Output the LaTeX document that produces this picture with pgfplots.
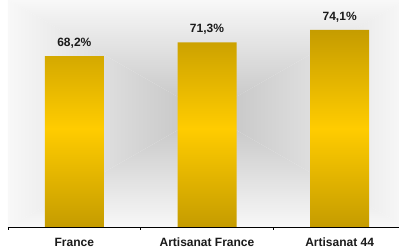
\documentclass[border=0pt]{standalone}
\usepackage{fontspec}
\setmainfont{Liberation Sans}
\usepackage{pgfplots}
\pgfplotsset{compat=1.18}
\definecolor{bdark}{HTML}{C59C00}
\definecolor{bmid}{HTML}{FFCC00}
\definecolor{bgin}{HTML}{C2C2C2}
\definecolor{bgout}{HTML}{F8F8F8}
\definecolor{txt}{HTML}{1A1A1A}
\begin{document}
\begin{tikzpicture}
\fill[white] (-8pt,-21pt) rectangle (391pt,227pt);
\shade[top color=bgout, bottom color=bgin] (0pt,227pt) -- (398pt,227pt) -- (199pt,113.5pt) -- cycle;
\shade[bottom color=bgout, top color=bgin] (0pt,0pt) -- (398pt,0pt) -- (199pt,113.5pt) -- cycle;
\shade[left color=bgout, right color=bgin] (0pt,0pt) -- (0pt,227pt) -- (199pt,113.5pt) -- cycle;
\shade[right color=bgout, left color=bgin] (398pt,0pt) -- (398pt,227pt) -- (199pt,113.5pt) -- cycle;
\begin{axis}[
  anchor=south west, at={(0pt,0pt)},
  scale only axis, width=398pt, height=223.5pt,
  xmin=-0.5, xmax=2.5, ymin=30, ymax=80,
  axis x line*=bottom, axis y line=none,
  xtick={0,1,2},
  xticklabels={France, Artisanat France, Artisanat 44},
  major tick length=0pt,
  x tick label style={font=\bfseries\fontsize{12}{14}\selectfont, text=txt, anchor=north, inner sep=0pt, text height=8.6pt, text depth=0pt, yshift=-10.5pt},
  extra x ticks={-0.5,0.5,1.5,2.5},
  extra x tick labels={},
  extra x tick style={major tick length=3pt, tick align=outside, tick style={black, line width=0.8pt}},
  x axis line style={black, line width=0.8pt},
]
\addplot[ybar, bar width=59pt, draw=none, top color=bdark, bottom color=bdark, middle color=bmid]
  coordinates {(0,68.2) (1,71.3) (2,74.1)};
\addplot[draw=none, mark=none,
  nodes near coords={\pgfmathprintnumber[assume math mode=true, use comma, fixed, fixed zerofill, precision=1]{\pgfplotspointmeta}\%},
  every node near coord/.append style={font=\bfseries\fontsize{12}{14}\selectfont, text=txt, anchor=base, inner sep=0pt, yshift=9.5pt}]
  coordinates {(0,68.2) (1,71.3) (2,74.1)};
\end{axis}
\pgfresetboundingbox
\path[use as bounding box] (-8pt,-21pt) rectangle (391pt,227pt);
\end{tikzpicture}
\end{document}
